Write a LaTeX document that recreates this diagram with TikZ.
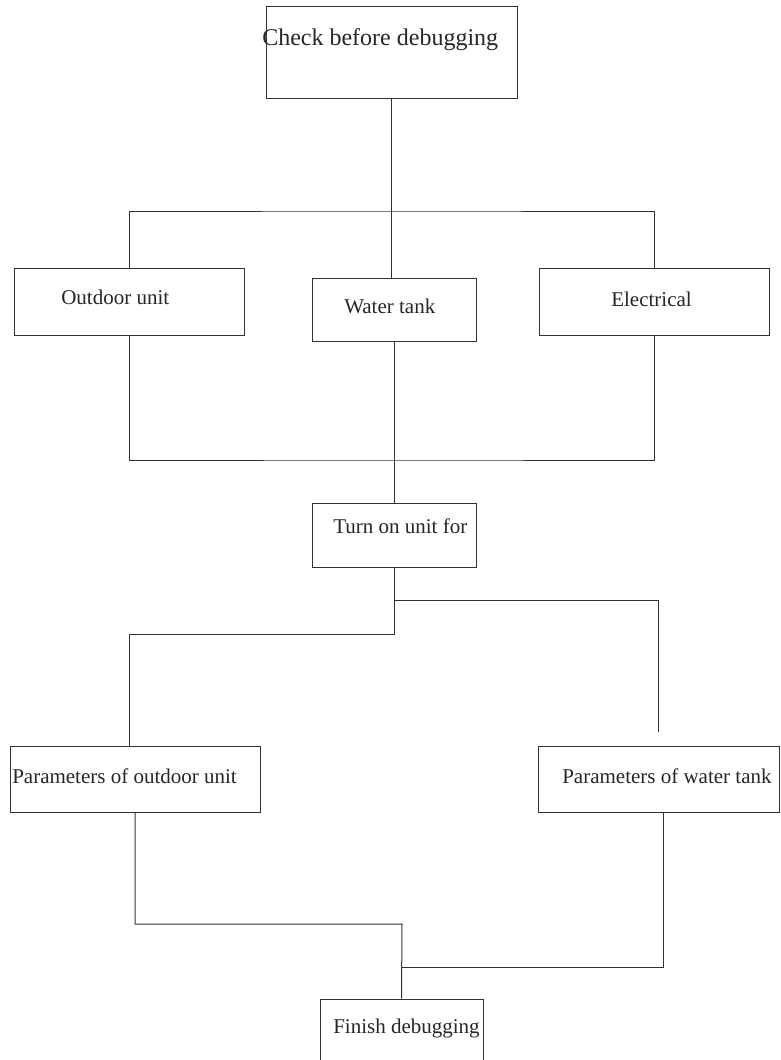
\documentclass[tikz,border=0pt]{standalone}
\usepackage{fontspec}
\setmainfont{Liberation Serif}
\usetikzlibrary{fit,calc}

\begin{document}
\begin{tikzpicture}[
    x=0.75pt, y=-0.75pt,
    box/.style={rectangle, draw=black!80, line width=0.75pt, inner sep=0pt},
    lbl/.style={anchor=base west, inner sep=0pt, text=black!85,
                font=\fontsize{15.75}{18}\selectfont},
    tlbl/.style={lbl, font=\fontsize{18}{21}\selectfont},
    link/.style={draw=black!80, line width=0.75pt}
]
\useasboundingbox (0,0) rectangle (781,1060);
% boxes
\node[box, fit={(266,6) (517,98)}] (check) {};
\node[box, fit={(14,268) (244,335)}] (outdoor) {};
\node[box, fit={(312,278) (476,341)}] (water) {};
\node[box, fit={(539,268) (769,335)}] (elec) {};
\node[box, fit={(312,503) (476,567)}] (turn) {};
\node[box, fit={(10,746) (260,812)}] (parout) {};
\node[box, fit={(538,746) (779,812)}] (parwat) {};
\node[box, fit={(320,999) (483,1075)}] (finish) {};
% texts
\node[tlbl] (check-t) at (262,45) {Check before debugging};
\node[lbl] (outdoor-t) at (61,304) {Outdoor unit};
\node[lbl] (water-t) at (344,313) {Water tank};
\node[lbl] (elec-t) at (611,306) {Electrical};
\node[lbl] (turn-t) at (333,533) {Turn on unit for};
\node[lbl] (parout-t) at (12,783) {Parameters of outdoor unit};
\node[lbl] (parwat-t) at (562,783) {Parameters of water tank};
\node[lbl] (finish-t) at (333,1033) {Finish debugging};
% junctions
\coordinate (topbus) at (391.5,211);
\coordinate (lowbus) at (395,460);
\coordinate (splitR) at ($(turn.south)+(0,33)$);
\coordinate (splitL) at ($(turn.south)+(0,67)$);
\coordinate (joinL) at (402,924);
\coordinate (joinR) at (402,967);
% connectors
\draw[link] (check.south) -- (topbus);
\draw[link] (outdoor.north) |- (topbus) -| (elec.north);
\draw[link] (topbus) -- (topbus |- water.north);
\draw[link] (outdoor.south) |- (lowbus) -| (elec.south);
\draw[link] (water.south) -- (turn.north);
\draw[link] (turn.south) -- (splitL) -| ($(parout.north)+(-5.5,0)$);
\draw[link] (splitR) -| ($(parwat.north)+(0,-14)$);
\draw[link] (parout.south) |- (joinL) -- (finish.north);
\draw[link] ($(parwat.south)+(4.5,0)$) |- (joinR);
\end{tikzpicture}
\end{document}
